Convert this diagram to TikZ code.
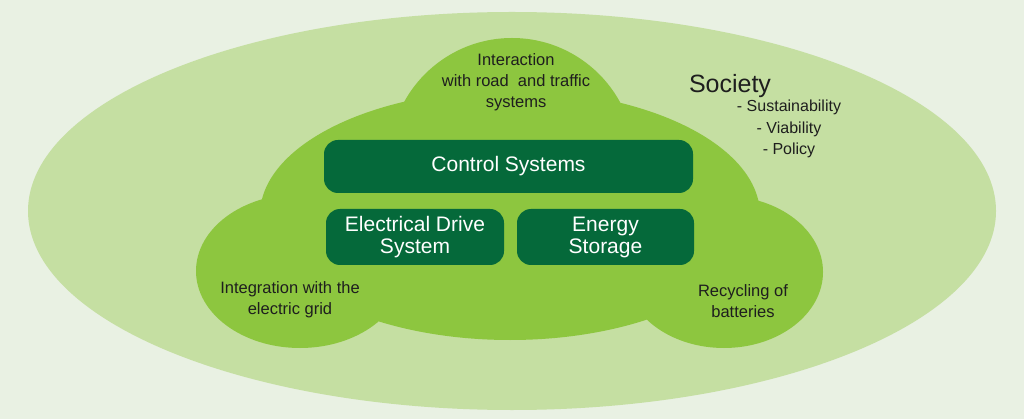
\documentclass[tikz,border=0pt]{standalone}
\usepackage{fontspec}
\setmainfont{Liberation Sans}
\definecolor{fundo}{HTML}{E9F1E3}
\definecolor{elipse}{HTML}{C5DFA2}
\definecolor{nuvem}{HTML}{8DC63F}
\definecolor{caixa}{HTML}{05693A}
\definecolor{texto}{HTML}{1E1E1E}
\tikzset{
  bloco/.style={rounded corners=14pt, fill=caixa, text=white, align=center, inner sep=0pt,
    font=\fontsize{21}{22}\selectfont},
  rotulo/.style={text=texto, align=center, inner sep=0pt, font=\fontsize{16.5}{21}\selectfont}
}
\begin{document}
\begin{tikzpicture}[x=1pt, y=-1pt]
            \useasboundingbox (0,0) rectangle (1024,419);
            %fundo
            \fill[fundo] (0,0) rectangle (1024,419);
            \fill[elipse] (512,211) ellipse [x radius=484, y radius=199];

            %nuvem
            \fill[nuvem] (512,161) circle [radius=123]
            (510,215) ellipse [x radius=250, y radius=125]
            (300,271) ellipse [x radius=104, y radius=77]
            (724,272) ellipse [x radius=99, y radius=76];

            %caixas
            \draw (508.5,166.5) node[bloco, minimum width=369, minimum height=53](ctrl){Control Systems}
            (415,237) node[bloco, minimum width=178, minimum height=56](drive){Electrical Drive\\System}
            (605.5,237) node[bloco, minimum width=177, minimum height=56](energia){Energy\\Storage};

            %textos
            \draw (516,82) node[rotulo](transito){Interaction\\with road\ \ and traffic\\systems}
            (290,300) node[rotulo](rede){Integration with the\\electric grid}
            (743,301) node[rotulo](reciclagem){Recycling of\\batteries}
            (730,86) node[rotulo, font=\fontsize{25}{26}\selectfont](sociedade){Society}
            (789,129) node[rotulo, font=\fontsize{16}{21.5}\selectfont](aspectos){- Sustainability\\- Viability\\- Policy};
        \end{tikzpicture}
\end{document}
